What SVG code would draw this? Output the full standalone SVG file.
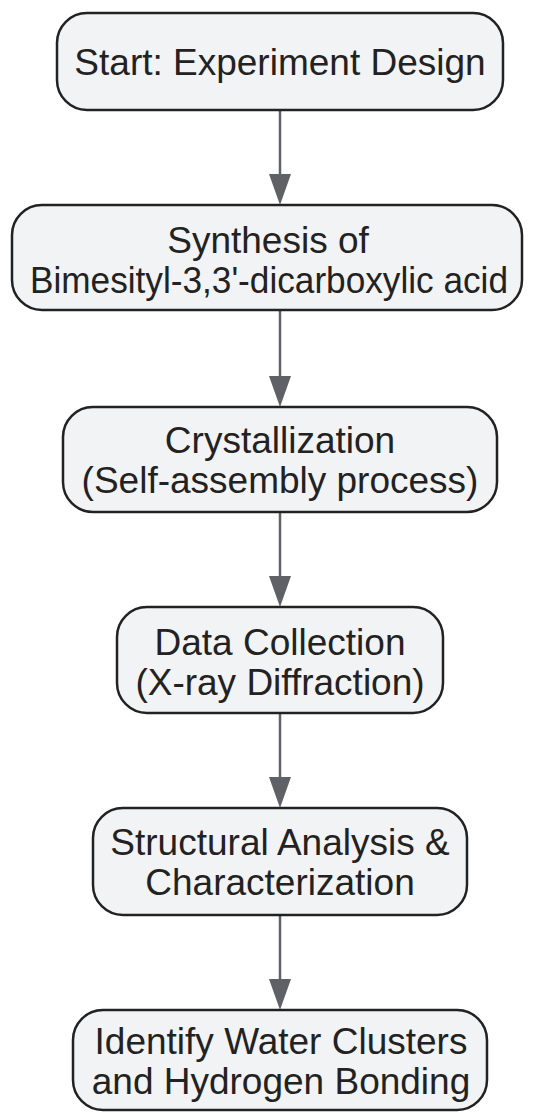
<svg xmlns="http://www.w3.org/2000/svg" width="548" height="1112" viewBox="0 0 548 1112">
<defs>
<style>
.node rect{fill:#f2f3f5;stroke:#222;stroke-width:2.5}
.node text{font-family:"Liberation Sans",Arial,sans-serif;font-size:37px;fill:#222;text-anchor:middle}
.edge line{stroke:#5f6166;stroke-width:2.5}
.edge polygon{fill:#5f6166}
</style>
</defs>
<rect width="548" height="1112" fill="#ffffff"/>
<g id="connectors" class="edge">
<line x1="280" y1="110" x2="280" y2="176"/><polygon points="269,174 291,174 280,205"/>
<line x1="280" y1="310" x2="280" y2="378"/><polygon points="269,376 291,376 280,407"/>
<line x1="280" y1="512" x2="280" y2="578"/><polygon points="269,576 291,576 280,607"/>
<line x1="280" y1="713" x2="280" y2="779"/><polygon points="269,777 291,777 280,808"/>
<line x1="280" y1="915" x2="280" y2="981"/><polygon points="269,979 291,979 280,1010"/>
</g>
<g id="n1" class="node"><rect x="57" y="13" width="446" height="97" rx="30"/><text x="280" y="75">Start: Experiment Design</text></g>
<g id="n2" class="node"><rect x="12" y="205" width="510" height="105" rx="30"/><text x="268" y="253">Synthesis of</text><text x="269" y="293" textLength="478" lengthAdjust="spacingAndGlyphs">Bimesityl-3,3'-dicarboxylic acid</text></g>
<g id="n3" class="node"><rect x="63" y="407" width="434" height="105" rx="30"/><text x="280" y="453">Crystallization</text><text x="280" y="493">(Self-assembly process)</text></g>
<g id="n4" class="node"><rect x="117" y="607" width="326" height="106" rx="30"/><text x="280" y="655">Data Collection</text><text x="280" y="695">(X-ray Diffraction)</text></g>
<g id="n5" class="node"><rect x="93" y="808" width="374" height="107" rx="30"/><text x="280" y="855">Structural Analysis &amp;</text><text x="280" y="895">Characterization</text></g>
<g id="n6" class="node"><rect x="73" y="1010" width="414" height="100" rx="30"/><text x="281" y="1054">Identify Water Clusters</text><text x="281" y="1094">and Hydrogen Bonding</text></g>
</svg>
